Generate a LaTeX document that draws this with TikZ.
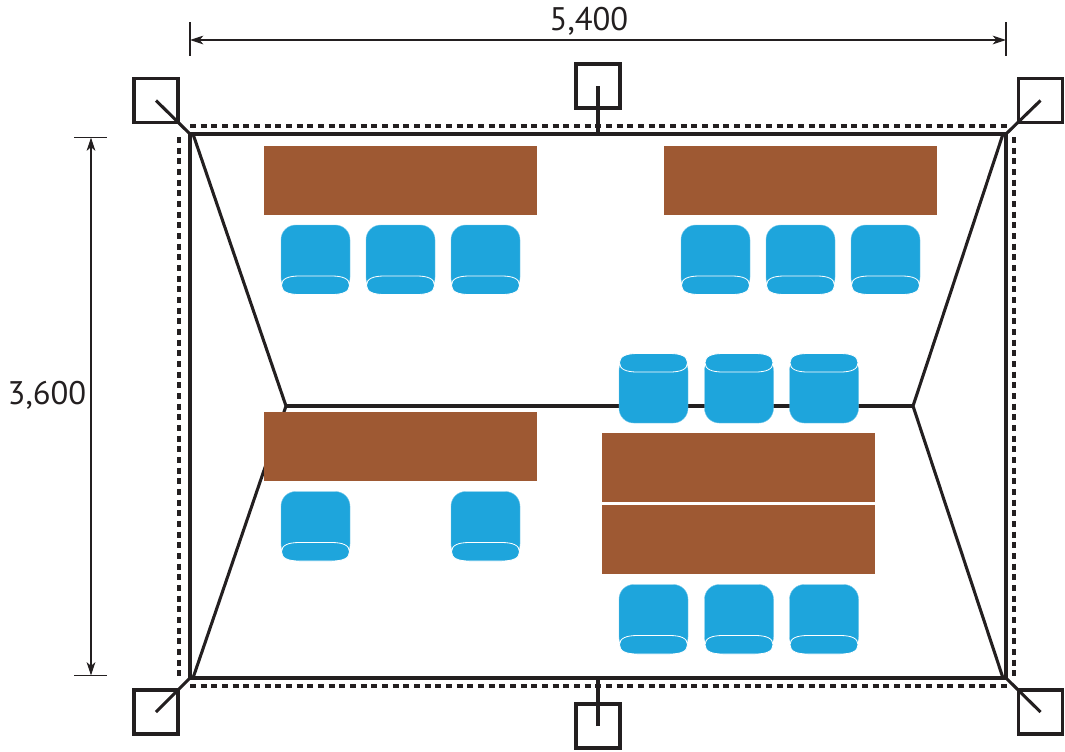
\documentclass[tikz,border=0pt]{standalone}
\usepackage{fontspec}
\setmainfont{PT Sans}
\usetikzlibrary{arrows.meta}
\definecolor{ink}{HTML}{231F20}
\definecolor{chairblue}{HTML}{1EA5DC}
\definecolor{tablebrown}{HTML}{9E5933}
\tikzset{
  x=0.75pt,y=-0.75pt,
  post/.style={draw=ink,line width=2.3pt,fill=none,minimum width=33pt,minimum height=33pt,inner sep=0pt,outer sep=0pt},
  beam/.style={draw=ink,line width=2.3pt},
  brace/.style={draw=ink,line width=2.3pt},
  outline/.style={draw=ink,line width=2.3pt,dash pattern=on 4.6pt off 3.4pt},
  tabletop/.style={fill=tablebrown},
  dim/.style={draw=ink,line width=0.8pt},
  dimarrow/.style={dim,{Stealth[length=10pt,width=6.5pt,inset=2.8pt]}-{Stealth[length=10pt,width=6.5pt,inset=2.8pt]}},
  dimtext/.style={text=ink,font=\fontsize{24.5}{28}\selectfont,inner sep=0pt},
  chairback/.style={fill=chairblue,draw=chairblue!60!white,line width=0.3pt,rounded corners=11pt},
  chairseat/.style={fill=chairblue,draw=white,line width=0.6pt},
}
\newcommand{\tabletopat}[3]{\node[tabletop,anchor=north west,minimum width=204.75pt,minimum height=51.75pt,inner sep=0pt,outer sep=0pt] (#1) at (#2,#3) {};}
% seat outline: left x, top y, 68 wide, 18.5 high
\newcommand{\seatat}[2]{%
  \path[chairseat] (#1,#2+9.25)
    .. controls (#1,#2+2.5) and (#1+7,#2) .. (#1+18,#2)
    -- (#1+50,#2)
    .. controls (#1+61,#2) and (#1+68,#2+2.5) .. (#1+68,#2+9.25)
    .. controls (#1+68,#2+16) and (#1+61,#2+18.5) .. (#1+50,#2+18.5)
    -- (#1+18,#2+18.5)
    .. controls (#1+7,#2+18.5) and (#1,#2+16) .. (#1,#2+9.25) -- cycle;}
% chair with seat below the back: left x, top y
\newcommand{\chairdown}[2]{%
  \path[chairback] (#1,#2) rectangle ++(69,67);
  \seatat{#1+0.5}{#2+51}}
% chair with seat above the back: left x, top y
\newcommand{\chairup}[2]{%
  \path[chairback] (#1,#2+2) rectangle ++(69,67);
  \seatat{#1+0.5}{#2-0.5}}
\begin{document}
\begin{tikzpicture}
\useasboundingbox (0,0) rectangle (1065,751);
% corner coordinates
\coordinate (iTL) at (190,134);
\coordinate (iTR) at (1006,134);
\coordinate (iBR) at (1006,678);
\coordinate (iBL) at (190,678);
\coordinate (iTM) at (598,134);
\coordinate (iBM) at (598,678);
\coordinate (dTa) at (190,126);
\coordinate (dTb) at (1008,126);
\coordinate (dBa) at (190,686);
\coordinate (dBb) at (1008,686);
\coordinate (dLa) at (179,137);
\coordinate (dLb) at (179,677);
\coordinate (dRa) at (1014,137);
\coordinate (dRb) at (1014,677);
\coordinate (tL) at (193,134);
\coordinate (tR) at (1003,134);
\coordinate (bL) at (193,678);
\coordinate (bR) at (1003,678);
\coordinate (mL) at (286,406);
\coordinate (mR) at (913,406);
% posts
\node[post] (pTL) at (156,100.5) {};
\node[post] (pTM) at (598,86) {};
\node[post] (pTR) at (1040.5,100.5) {};
\node[post] (pBL) at (156,712) {};
\node[post] (pBM) at (598,726) {};
\node[post] (pBR) at (1040.5,712) {};
% dashed frame
\draw[outline] (dTa) -- (dTb);
\draw[outline] (dBa) -- (dBb);
\draw[outline] (dLa) -- (dLb);
\draw[outline] (dRa) -- (dRb);
% solid frame
\draw[beam] (iTL) -- (iTR) -- (iBR) -- (iBL) -- cycle;
% braces
\draw[brace] (pTL.center) -- (iTL);
\draw[brace] (pTM.center) -- (iTM);
\draw[brace] (pTR.center) -- (iTR);
\draw[brace] (pBL.center) -- (iBL);
\draw[brace] (pBM.center) -- (iBM);
\draw[brace] (pBR.center) -- (iBR);
% inner lines
\draw[beam] (tL) -- (mL) -- (bL);
\draw[beam] (tR) -- (mR) -- (bR);
\draw[beam] (mL) -- (mR);
% tables
\tabletopat{t1}{264}{146}
\tabletopat{t2}{664}{146}
\tabletopat{t3}{264}{412}
\tabletopat{t4}{602}{433}
\tabletopat{t5}{602}{505}
% chairs
\foreach \cx in {281,366,451} {\chairdown{\cx}{225}}
\foreach \cx in {681,766,851} {\chairdown{\cx}{225}}
\foreach \cx in {281,451} {\chairdown{\cx}{491.5}}
\foreach \cx in {619,704.5,789.5} {\chairdown{\cx}{584.5}}
\foreach \cx in {619,704.5,789.5} {\chairup{\cx}{354}}
% dimensions
\coordinate (dxL) at (190,40);
\coordinate (dxR) at (1006,40);
\coordinate (dyT) at (91,137.5);
\coordinate (dyB) at (91,675.5);
\coordinate (exL1) at (190,22);
\coordinate (exL2) at (190,56);
\coordinate (exR1) at (1006,22);
\coordinate (exR2) at (1006,56);
\coordinate (eyT1) at (74,137.5);
\coordinate (eyT2) at (107,137.5);
\coordinate (eyB1) at (74,675.5);
\coordinate (eyB2) at (107,675.5);
\draw[dim] (exL1) -- (exL2);
\draw[dim] (exR1) -- (exR2);
\draw[dim] (eyT1) -- (eyT2);
\draw[dim] (eyB1) -- (eyB2);
\draw[dimarrow] (dxL) -- (dxR);
\draw[dimarrow] (dyT) -- (dyB);
\node[dimtext] (lblW) at (589,21) {5,400};
\node[dimtext] (lblH) at (47,395) {3,600};
\end{tikzpicture}
\end{document}
